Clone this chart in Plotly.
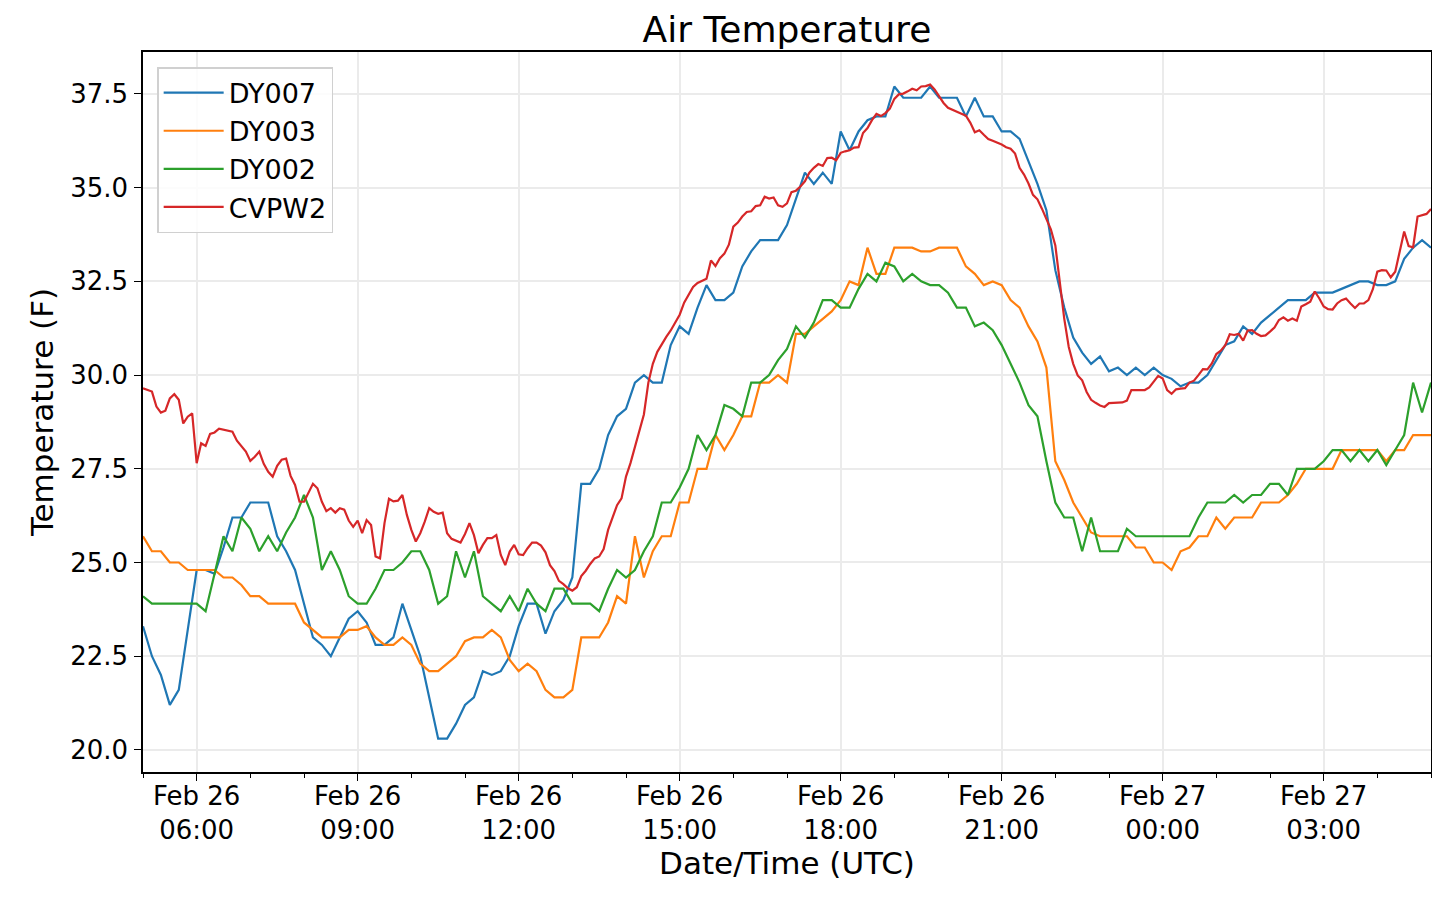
import pandas as pd
import plotly.graph_objects as go

# ---------------- data ----------------
START = "2019-02-26 05:00"

# 10-minute readings, 05:00 Feb 26 -> 05:00 Feb 27
dy007 = [
    23.3, 22.5, 22.0, 21.2, 21.6, 23.2, 24.8, 24.8, 24.7, 25.4, 26.2, 26.2, 26.6, 26.6, 26.6, 25.7, 25.3, 24.8, 23.9, 23.0,
    22.8, 22.5, 23.0, 23.5, 23.7, 23.4, 22.8, 22.8, 23.0, 23.9, 23.2, 22.5, 21.4, 20.3, 20.3, 20.7, 21.2,
    21.4, 22.1, 22.0, 22.1, 22.5, 23.3, 23.9, 23.9, 23.1, 23.7, 24.0, 24.6, 27.1, 27.1, 27.5, 28.4, 28.9,
    29.1, 29.8, 30.0, 29.8, 29.8, 30.8, 31.3, 31.1, 31.8, 32.4, 32.0, 32.0, 32.2, 32.9, 33.3, 33.6, 33.6, 33.6, 34.0, 34.7,
    35.4, 35.1, 35.4, 35.1, 36.5, 36.0, 36.5, 36.8, 36.9, 36.9, 37.7, 37.4, 37.4, 37.4, 37.7, 37.4, 37.4,
    37.4, 36.9, 37.4, 36.9, 36.9, 36.5, 36.5, 36.3, 35.7, 35.1, 34.4, 32.8, 31.8, 31.0, 30.6, 30.3, 30.5,
    30.1, 30.2, 30.0, 30.2, 30.0, 30.2, 30.0, 29.9, 29.7, 29.8, 29.8, 30.0, 30.4, 30.8, 30.9, 31.3, 31.1, 31.4, 31.6, 31.8,
    32.0, 32.0, 32.0, 32.2, 32.2, 32.2, 32.3, 32.4, 32.5, 32.5, 32.4, 32.4, 32.5, 33.1, 33.4, 33.6, 33.4,
]

dy003 = [
    25.7, 25.3, 25.3, 25.0, 25.0, 24.8, 24.8, 24.8, 24.8, 24.6, 24.6, 24.4, 24.1, 24.1, 23.9, 23.9, 23.9, 23.9, 23.4, 23.2,
    23.0, 23.0, 23.0, 23.2, 23.2, 23.3, 23.0, 22.8, 22.8, 23.0, 22.8, 22.3, 22.1, 22.1, 22.3, 22.5, 22.9,
    23.0, 23.0, 23.2, 23.0, 22.4, 22.1, 22.3, 22.1, 21.6, 21.4, 21.4, 21.6, 23.0, 23.0, 23.0, 23.4, 24.1, 23.9,
    25.7, 24.6, 25.3, 25.7, 25.7, 26.6, 26.6, 27.5, 27.5, 28.4, 28.0, 28.4, 28.9, 28.9, 29.8, 29.8, 30.0, 29.8,
    31.1, 31.1, 31.3, 31.5, 31.7, 32.0, 32.5, 32.4, 33.4, 32.7, 32.7, 33.4, 33.4, 33.4, 33.3, 33.3, 33.4, 33.4,
    33.4, 32.9, 32.7, 32.4, 32.5, 32.4, 32.0, 31.8, 31.3, 30.9, 30.2, 27.7, 27.2, 26.6, 26.2, 25.8, 25.7,
    25.7, 25.7, 25.7, 25.4, 25.4, 25.0, 25.0, 24.8, 25.3, 25.4, 25.7, 25.7, 26.2, 25.9, 26.2, 26.2, 26.2, 26.6, 26.6, 26.6,
    26.8, 27.1, 27.5, 27.5, 27.5, 27.5, 28.0, 28.0, 28.0, 28.0, 28.0, 27.7, 28.0, 28.0, 28.4, 28.4, 28.4,
]

dy002 = [
    24.1, 23.9, 23.9, 23.9, 23.9, 23.9, 23.9, 23.7, 24.7, 25.7, 25.3, 26.2, 25.9, 25.3, 25.7, 25.3, 25.8, 26.2, 26.8, 26.2,
    24.8, 25.3, 24.8, 24.1, 23.9, 23.9, 24.3, 24.8, 24.8, 25.0, 25.3, 25.3, 24.8, 23.9, 24.1, 25.3, 24.6,
    25.3, 24.1, 23.9, 23.7, 24.1, 23.7, 24.3, 23.9, 23.7, 24.3, 24.3, 23.9, 23.9, 23.9, 23.7, 24.3, 24.8, 24.6,
    24.8, 25.3, 25.7, 26.6, 26.6, 27.0, 27.5, 28.4, 28.0, 28.4, 29.2, 29.1, 28.9, 29.8, 29.8, 30.0,
    30.4, 30.7, 31.3, 31.0, 31.4, 32.0, 32.0, 31.8, 31.8, 32.3, 32.7, 32.5, 33.0, 32.9, 32.5, 32.7, 32.5, 32.4, 32.4, 32.2,
    31.8, 31.8, 31.3, 31.4, 31.2, 30.8, 30.3, 29.8, 29.2, 28.9, 27.7, 26.6, 26.2, 26.2, 25.3, 26.2, 25.3,
    25.3, 25.3, 25.9, 25.7, 25.7, 25.7, 25.7, 25.7, 25.7, 25.7, 26.2, 26.6, 26.6, 26.6, 26.8, 26.6, 26.8, 26.8, 27.1, 27.1,
    26.8, 27.5, 27.5, 27.5, 27.7, 28.0, 28.0, 27.7, 28.0, 27.7, 28.0, 27.6, 28.0, 28.4, 29.8, 29.0, 29.8,
]

# 5-minute readings, 05:00 Feb 26 -> 05:00 Feb 27
cvpw2 = [
    29.65, 29.60, 29.56, 29.16, 29.00, 29.05, 29.38, 29.49, 29.34, 28.71, 28.89, 28.98, 27.65, 28.18, 28.11, 28.43, 28.47,
    28.57, 28.54, 28.53, 28.49, 28.25, 28.11, 27.96, 27.71, 27.82, 27.96, 27.63, 27.42, 27.29, 27.58, 27.74, 27.77, 27.31,
    27.07, 26.62, 26.62, 26.85, 27.10, 26.98, 26.62, 26.37, 26.45, 26.33, 26.45, 26.41, 26.12, 25.95, 26.12, 25.78, 26.13,
    26.00, 25.16, 25.11, 26.05, 26.70, 26.63, 26.65, 26.80, 26.27, 25.87, 25.56, 25.78, 26.09, 26.45, 26.35, 26.30, 26.33,
    25.78, 25.63, 25.59, 25.53, 25.76,
    26.05, 25.73, 25.25, 25.47, 25.65, 25.65, 25.73, 25.20, 24.93, 25.29, 25.47, 25.22, 25.20, 25.38, 25.53, 25.53, 25.45,
    25.27, 24.93, 24.77, 24.51, 24.42, 24.31, 24.25, 24.34, 24.64, 24.78, 24.96, 25.11, 25.16, 25.36, 25.87, 26.21, 26.53,
    26.71, 27.29, 27.65,
    28.10, 28.50, 28.95, 29.80, 30.30, 30.62, 30.84, 31.02, 31.19, 31.41, 31.61, 31.93, 32.16, 32.35, 32.46, 32.51, 32.57,
    33.06, 32.91, 33.12, 33.24, 33.48, 33.96, 34.07, 34.23, 34.35, 34.37, 34.51, 34.53, 34.76, 34.71, 34.74, 34.53, 34.49,
    34.58, 34.88, 34.92, 35.03, 35.17, 35.40, 35.53, 35.63, 35.58, 35.79, 35.80, 35.73, 35.93, 35.97, 36.00, 36.07, 36.08,
    36.46, 36.59, 36.80, 36.97, 36.91, 36.99, 37.11, 37.37, 37.49, 37.51, 37.57, 37.64, 37.60, 37.70, 37.71, 37.75, 37.62,
    37.44,
    37.26, 37.13, 37.07, 37.02, 36.97, 36.92, 36.73, 36.48, 36.53, 36.41, 36.30, 36.25, 36.21, 36.15, 36.08, 36.04, 35.91,
    35.53, 35.35, 35.11, 34.81, 34.69, 34.44, 34.17, 33.89, 33.46, 32.48, 31.50, 30.75, 30.30, 29.99, 29.86, 29.55, 29.34,
    29.26, 29.19, 29.15,
    29.25, 29.26, 29.26, 29.27, 29.32, 29.60, 29.60, 29.60, 29.60, 29.67, 29.82, 29.98, 29.91, 29.60, 29.50, 29.62, 29.64,
    29.65, 29.80, 29.85, 30.00, 30.16, 30.15, 30.31, 30.56, 30.65, 30.80, 31.09, 31.07, 31.10, 30.92, 31.19, 31.20, 31.10,
    31.04, 31.06, 31.16, 31.27, 31.47, 31.54, 31.45, 31.51, 31.45, 31.83, 31.89, 31.96, 32.23, 32.05, 31.83, 31.76, 31.75,
    31.91, 32.00, 32.04, 31.91, 31.79, 31.91, 31.91, 32.00, 32.29, 32.76, 32.80, 32.79, 32.61, 32.76, 33.29, 33.83, 33.44,
    33.41, 34.23, 34.27, 34.30, 34.43,
]

series_names = ["DY007", "DY003", "DY002", "CVPW2"]
series_values = [dy007, dy003, dy002, cvpw2]
series_steps = ["10min", "10min", "10min", "5min"]
series_colors = ["#1f77b4", "#ff7f0e", "#2ca02c", "#d62728"]

tick_times = ["2019-02-26 06:00", "2019-02-26 09:00", "2019-02-26 12:00", "2019-02-26 15:00",
              "2019-02-26 18:00", "2019-02-26 21:00", "2019-02-27 00:00", "2019-02-27 03:00"]
tick_labels = ["Feb 26<br>06:00", "Feb 26<br>09:00", "Feb 26<br>12:00", "Feb 26<br>15:00",
               "Feb 26<br>18:00", "Feb 26<br>21:00", "Feb 27<br>00:00", "Feb 27<br>03:00"]

# ---------------- figure ----------------
FONT = "DejaVu Sans"
fig = go.Figure()
for name, vals, step, col in zip(series_names, series_values, series_steps, series_colors):
    times = pd.date_range(START, periods=len(vals), freq=step)
    fig.add_trace(go.Scatter(x=times, y=vals, mode="lines", name=name, legendgroup=name,
                             line=dict(color=col, width=2.2)))

axis_common = dict(
    showline=True, linecolor="black", linewidth=1.5, mirror=True,
    ticks="outside", ticklen=7, tickwidth=1.3, tickcolor="black",
    showgrid=True, gridcolor="#ebebeb", gridwidth=1.5,
    zeroline=False, tickfont=dict(family=FONT, size=26, color="black"),
    automargin=False,
)

# the page body adds an 8 px offset, so the figure is 8 px smaller and shifted
fig.update_layout(
    width=1432, height=895, autosize=False,
    margin=dict(l=135, r=9, t=44, b=131, pad=0),
    paper_bgcolor="white", plot_bgcolor="white",
    font=dict(family=FONT, color="black"),
    title=dict(text="Air Temperature", x=0.5, xref="paper", xanchor="center",
               y=1 - 21 / 895, yref="container", yanchor="middle",
               font=dict(family=FONT, size=36, color="black")),
    xaxis=dict(
        type="date", range=["2019-02-26 05:00", "2019-02-27 05:00"],
        tickmode="array", tickvals=tick_times, ticktext=tick_labels,
        minor=dict(tickmode="linear", tick0="2019-02-26 05:00", dtick=3600000,
                   ticks="outside", ticklen=4, tickwidth=1.1, tickcolor="black", showgrid=False),
        ticklabelstandoff=-7,
        title=dict(text="Date/Time (UTC)", font=dict(family=FONT, size=31, color="black"), standoff=6),
        **axis_common,
    ),
    yaxis=dict(
        range=[19.41, 38.62], tickmode="linear", tick0=20, dtick=2.5, tickformat=".1f",
        ticklabelstandoff=1,
        title=dict(text="Temperature (F)", font=dict(family=FONT, size=31, color="black"), standoff=7),
        **axis_common,
    ),
    legend=dict(x=0.011, y=0.979, xanchor="left", yanchor="top",
                bgcolor="rgba(255,255,255,0.85)", bordercolor="#d0d0d0", borderwidth=1.5,
                font=dict(family=FONT, size=27, color="black"),
                tracegroupgap=0, itemwidth=60),
    showlegend=True,
)

fig.write_html("out.html")
